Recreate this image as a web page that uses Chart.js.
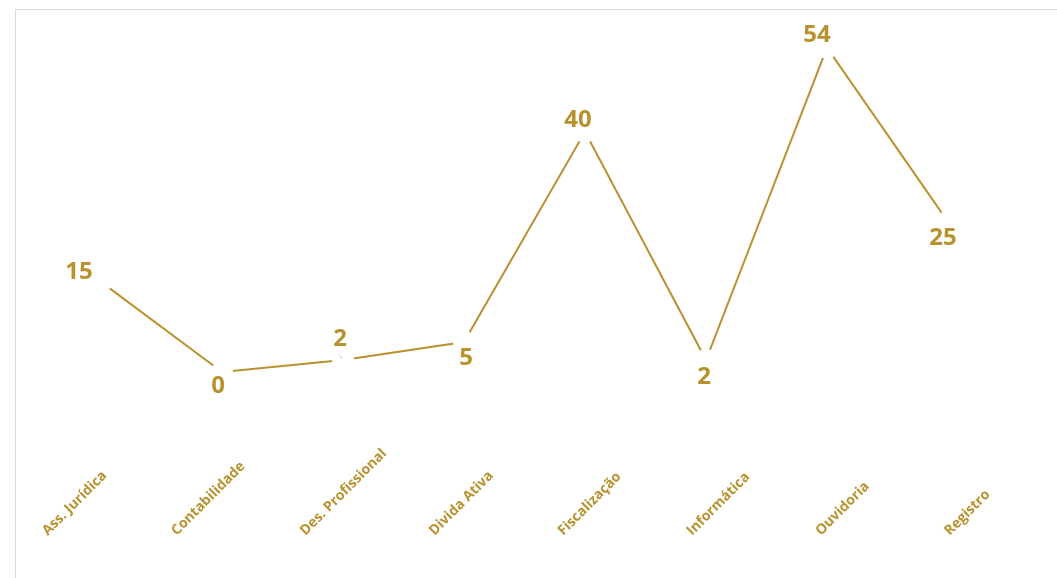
<!DOCTYPE html>
<html><head><meta charset="utf-8">
<script src="https://cdn.jsdelivr.net/npm/chart.js@4.4.0/dist/chart.umd.min.js"></script>
<style>
html,body{margin:0;padding:0;background:#fff;overflow:hidden;width:1057px;height:578px;}
#frame{position:absolute;left:15px;top:9px;width:1100px;height:700px;border-left:1px solid #d9d9d9;border-top:1px solid #d9d9d9;pointer-events:none;}
canvas{position:absolute;left:0;top:0;}
</style></head><body>
<canvas id="c" width="1057" height="578"></canvas>
<div id="frame"></div>
<script>
const categories = ['Ass. Jurídica','Contabilidade','Des. Profissional','Divida Ativa','Fiscalização','Informática','Ouvidoria','Registro'];
const values = [15, 0, 2, 5, 40, 2, 54, 25];
// label placement relative to each point (style)
const labelOffsets = [[-22,-11],[-4,12],[-3,-23],[2,15],[-7,-13],[-2,15],[-10,-14],[-5,15]];
const GOLD = '#B8922F';
const tickSpread = 1.065, tickShift = -28.5, tickDrop = 101;

const labelPlugin = {
  id: 'labels',
  afterDatasetsDraw(chart) {
    const ctx = chart.ctx;
    const meta = chart.getDatasetMeta(0);
    const xs = chart.scales.x;
    const area = chart.chartArea;
    ctx.save();
    // small leader line on the "Des. Profissional" label
    const lp = meta.data[2];
    ctx.strokeStyle = '#c8c8c8';
    ctx.lineWidth = 1;
    ctx.beginPath();
    ctx.moveTo(lp.x - 3, lp.y - 5);
    ctx.lineTo(lp.x - 1, lp.y - 1);
    ctx.stroke();

    ctx.fillStyle = GOLD;
    ctx.font = 'bold 24px "Open Sans"';
    ctx.textAlign = 'center';
    ctx.textBaseline = 'alphabetic';
    meta.data.forEach((pt, i) => {
      const [dx, dy] = labelOffsets[i];
      ctx.fillText(String(values[i]), pt.x + dx, pt.y + dy + 8.5);
    });
    ctx.font = 'bold 14px "Open Sans"';
    ctx.textAlign = 'left';
    ctx.textBaseline = 'middle';
    const mid = (area.left + area.right) / 2;
    categories.forEach((lab, i) => {
      const tx = xs.getPixelForValue(i);
      const ax = mid + (tx - mid) * tickSpread + tickShift;
      const ay = area.bottom + tickDrop;
      ctx.save();
      ctx.translate(ax, ay);
      ctx.rotate(-Math.PI / 4);
      ctx.fillText(lab, 0, 0);
      ctx.restore();
    });
    ctx.restore();
  }
};

new Chart(document.getElementById('c'), {
  type: 'line',
  data: {
    labels: categories,
    datasets: [{
      data: values,
      borderColor: GOLD,
      borderWidth: 2,
      tension: 0,
      pointRadius: 11,
      pointHoverRadius: 11,
      pointBackgroundColor: '#ffffff',
      pointBorderColor: '#ffffff',
      pointBorderWidth: 0,
      clip: false
    }]
  },
  options: {
    responsive: false,
    animation: false,
    events: [],
    layout: { padding: { left: 40.5, right: 48.5, top: 11.6, bottom: 145.9 } },
    scales: {
      x: { type: 'category', offset: true, display: false },
      y: { min: -10, max: 60, display: false }
    },
    plugins: { legend: { display: false }, tooltip: { enabled: false } }
  },
  plugins: [labelPlugin]
});
</script>
</body></html>
